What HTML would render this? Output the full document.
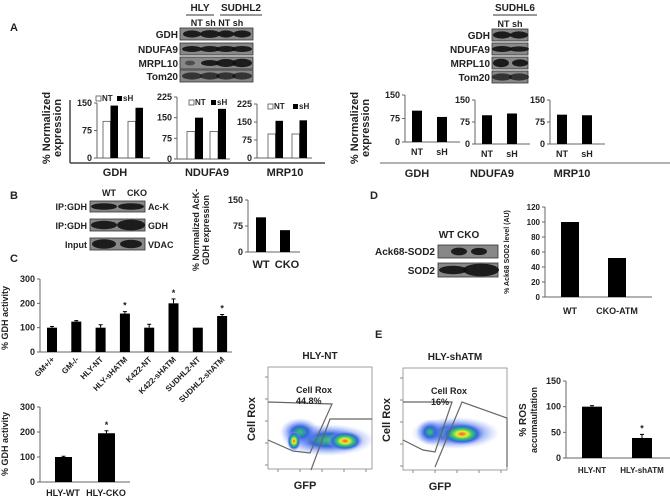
<!DOCTYPE html>
<html><head><meta charset="utf-8">
<style>
html,body{margin:0;padding:0;background:#fff;}
svg{display:block;font-family:"Liberation Sans",Arial,sans-serif;}
text{font-weight:bold;fill:#222;}
</style></head>
<body>
<svg id="fig" width="670" height="500" viewBox="0 0 670 500" xmlns="http://www.w3.org/2000/svg">
<defs>
<radialGradient id="blob" cx="50%" cy="50%" r="50%">
<stop offset="0" stop-color="#e53"/>
<stop offset="0.25" stop-color="#ee3"/>
<stop offset="0.45" stop-color="#3c6"/>
<stop offset="0.7" stop-color="#36d"/>
<stop offset="1" stop-color="#9af" stop-opacity="0"/>
</radialGradient>
<radialGradient id="blob2" cx="50%" cy="50%" r="50%">
<stop offset="0" stop-color="#3c6"/>
<stop offset="0.4" stop-color="#36d"/>
<stop offset="1" stop-color="#9af" stop-opacity="0"/>
</radialGradient>
</defs>
</svg>
<script>
// ---------- data ----------
const aLeftGdhNT=[100,100];
const aLeftGdhSH=[143,137];
const aLeftNdufNT=[100,100];
const aLeftNdufSH=[150,182];
const aLeftMrpNT=[100,100];
const aLeftMrpSH=[155,157];
const aRightCats=['NT','sH'];
const aRightGdh=[100,80];
const aRightNduf=[98,104];
const aRightMrp=[100,98];
const bCats=['WT','CKO'];
const bVals=[100,63];
const cCats=['GM+/+','GM-/-','HLY-NT','HLY-sHATM','K422-NT','K422-sHATM','SUDHL2-NT','SUDHL2-shATM'];
const cVals=[100,125,100,158,100,200,100,148];
const cErr=[5,4,12,8,14,18,0,6];
const cSig=[0,0,0,1,0,1,0,1];
const c2Cats=['HLY-WT','HLY-CKO'];
const c2Vals=[100,195];
const c2Err=[3,10];
const c2Sig=[0,1];
const dCats=['WT','CKO-ATM'];
const dVals=[100,52];
const eCats=['HLY-NT','HLY-shATM'];
const eVals=[100,39];
const eErr=[2,7];
const eSig=[0,1];

const svg=document.getElementById('fig');
const NS='http://www.w3.org/2000/svg';
function mk(tag,attrs,name,inter){
  const el=document.createElementNS(NS,tag);
  for(const k in attrs) el.setAttribute(k,attrs[k]);
  
  
  svg.appendChild(el);return el;
}
function txt(x,y,s,name,size,anchor,extra){
  const a=Object.assign({x:x,y:y,'font-size':size||10,'text-anchor':anchor||'start'},extra||{});
  const el=mk('text',a,name);el.textContent=s;return el;
}
function ln(x1,y1,x2,y2,name,col,w){return mk('line',{x1:x1,y1:y1,x2:x2,y2:y2,stroke:col||'#555',"stroke-width":w||1},name);}
function rect(x,y,w,h,fill,name,stroke){const a={x:x,y:y,width:w,height:h,fill:fill};if(stroke){a.stroke=stroke;a['stroke-width']=0.8;}return mk('rect',a,name);}

function axis(ax,yBase,yTop,max,ticks,xEnd,prefix,fs){
  const yS=v=>yBase-(v/max)*(yBase-yTop);
  ln(ax,yTop,ax,yBase,prefix+'-y-axis','#666');
  ln(ax,yBase,xEnd,yBase,prefix+'-x-axis','#666');
  ticks.forEach(t=>{
    ln(ax-3,yS(t),ax,yS(t),prefix+'-tick','#666');
    txt(ax-5,yS(t)+3,String(t),prefix+'-tick-label',fs||9,'end');
  });
  return yS;
}
function bars(yS,yBase,xs,w,vals,fill,prefix,err,sig){
  vals.forEach((v,i)=>{
    const y=yS(v);
    rect(xs(i),y,w,yBase-y,fill,prefix+'-bar',fill==='#fff'?'#555':null);
    let top=y;
    if(err&&err[i]){const ye=yS(v+err[i]);ln(xs(i)+w/2,y,xs(i)+w/2,ye,prefix+'-error-bar','#000');ln(xs(i)+w/2-2,ye,xs(i)+w/2+2,ye,prefix+'-error-cap','#000');top=ye;}
    if(sig&&sig[i]) txt(xs(i)+w/2,top-3,'*',prefix+'-significance',9,'middle');
  });
}
function blot(x,y,w,h,bands,name){
  rect(x,y,w,h,'#888',name,'#333');
  bands.forEach((b)=>{
    mk('ellipse',{cx:x+b[0],cy:y+h/2,rx:b[1],ry:h*b[2],fill:'#111',opacity:b[3]||0.9},name+'-band');
  });
}
function rotText(x,y,s,name,size){
  return txt(x,y,s,name,size||11,'middle',{transform:'rotate(-90 '+x+' '+y+')'});
}

// ---------- Panel A left ----------
txt(10,31,'A','panel-label-a',11);
txt(200,11,'HLY','blot-header-hly',10,'middle');
ln(186,15,214,15,'hly-underline','#333');
txt(241,11,'SUDHL2','blot-header-sudhl2',10,'middle');
ln(220,15,262,15,'sudhl2-underline','#333');
txt(217,26,'NT sh NT sh','lane-labels',9,'middle');
const blotRowsL=[['GDH',28,[[12,9,.3],[30,10,.32],[46,8,.3],[62,9,.3]]],['NDUFA9',43,[[12,10,.25],[30,10,.25],[46,10,.25],[62,10,.25]]],['MRPL10',57,[[10,5,.2,.5],[30,9,.25],[46,10,.33],[62,10,.35]]],['Tom20',70,[[12,10,.3,.7],[30,10,.3,.7],[46,10,.3,.7],[62,10,.3,.7]]]];
blotRowsL.forEach(r=>{blot(180,r[1],73,12,r[2],'blot-'+r[0].toLowerCase()+'-left');txt(178,r[1]+10,r[0],'blot-label',10,'end');});
rotText(50,128,'% Normalized','y-axis-title-a-left',11);
rotText(61,128,'expression','y-axis-title-a-left-2',11);
ln(70,100,70,163,'a-left-frame-line','#444',1.5);
ln(70,163,325,163,'a-left-baseline','#444',1.5);
{
  const yS=axis(97,158,103,150,[0,75,150],150,'a-gdh');
  bars(yS,158,i=>103+i*25,7.5,aLeftGdhNT,'#fff','a-gdh-nt');
  bars(yS,158,i=>110.5+i*25,7.5,aLeftGdhSH,'#000','a-gdh-sh');
  txt(115,176,'GDH','a-left-cat-gdh',11,'middle');
  rect(96,96,5,5,'#fff','legend-nt-swatch','#555');txt(102,101,'NT','legend-nt',8);
  rect(117,96,5,5,'#000','legend-sh-swatch');txt(123,101,'sH','legend-sh',8);
}
{
  const yS=axis(177,159,97,225,[0,75,150,225],230,'a-nduf');
  bars(yS,159,i=>187+i*23,8,aLeftNdufNT,'#fff','a-nduf-nt');
  bars(yS,159,i=>195+i*23,8,aLeftNdufSH,'#000','a-nduf-sh');
  txt(207,176,'NDUFA9','a-left-cat-ndufa9',11,'middle');
  rect(189,100,5,5,'#fff','legend-nt-swatch','#555');txt(195,105,'NT','legend-nt',8);
  rect(211,100,5,5,'#000','legend-sh-swatch');txt(217,105,'sH','legend-sh',8);
}
{
  const yS=axis(257,158,104,225,[0,75,150,225],312,'a-mrp');
  bars(yS,158,i=>268+i*24,7.5,aLeftMrpNT,'#fff','a-mrp-nt');
  bars(yS,158,i=>275.5+i*24,7.5,aLeftMrpSH,'#000','a-mrp-sh');
  txt(285,176,'MRP10','a-left-cat-mrp10',11,'middle');
  rect(268,104,5,5,'#fff','legend-nt-swatch','#555');txt(274,109,'NT','legend-nt',8);
  rect(293,104,5,5,'#000','legend-sh-swatch');txt(299,109,'sH','legend-sh',8);
}

// ---------- Panel A right ----------
txt(515,11,'SUDHL6','blot-header-sudhl6',10,'middle');
ln(493,15,537,15,'sudhl6-underline','#333');
txt(510,27,'NT sh','lane-labels-right',9,'middle');
const blotRowsR=[['GDH',29,[[10,9,.3],[27,9,.3]]],['NDUFA9',43,[[10,10,.25],[27,10,.22]]],['MRPL10',57,[[9,8,.35],[28,8,.3]]],['Tom20',71,[[10,10,.3,.7],[27,10,.3,.7]]]];
blotRowsR.forEach(r=>{blot(492,r[1],36,12,r[2],'blot-'+r[0].toLowerCase()+'-right');txt(490,r[1]+10,r[0],'blot-label',10,'end');});
rotText(358,128,'% Normalized','y-axis-title-a-right',11);
rotText(369,128,'expression','y-axis-title-a-right-2',11);
ln(380,163,670,163,'a-right-baseline','#666',1);
const rightCharts=[[405,95,142,aRightGdh,'GDH',417],[475,100,144,aRightNduf,'NDUFA9',492],[550,100,144,aRightMrp,'MRP10',572]];
rightCharts.forEach(c=>{
  const yS=axis(c[0],c[2],c[1],150,[0,75,150],c[0]+55,'a-right-'+c[4].toLowerCase());
  bars(yS,c[2],i=>c[0]+7+i*25,10,c[3],'#000','a-right-'+c[4].toLowerCase());
  aRightCats.forEach((n,i)=>txt(c[0]+12+i*25,c[2]+13,n,'a-right-x-label',9,'middle'));
  txt(c[5],177,c[4],'a-right-cat',11,'middle');
});

// ---------- Panel B ----------
txt(10,199,'B','panel-label-b',11);
txt(109,196,'WT','b-lane-wt',9,'middle');txt(137,196,'CKO','b-lane-cko',9,'middle');
blot(90,201,55,11,[[14,13,.3],[41,13,.3]],'blot-ac-k');
blot(90,219,55,12,[[14,13,.35],[41,14,.45]],'blot-gdh-ip');
blot(90,238,55,12,[[14,12,.4],[41,11,.35]],'blot-vdac');
txt(87,210,'IP:GDH','b-label-ip1',9,'end');txt(87,229,'IP:GDH','b-label-ip2',9,'end');txt(87,248,'Input','b-label-input',9,'end');
txt(148,210,'Ac-K','b-label-ack',9);txt(148,229,'GDH','b-label-gdh',9);txt(148,248,'VDAC','b-label-vdac',9);
rotText(199,230,'% Normalized AcK-','b-y-title',9);
rotText(209,230,'GDH expression','b-y-title-2',9);
{
  const yS=axis(248,252,200,150,[0,75,150],300,'b');
  bars(yS,252,i=>256+i*24,10,bVals,'#000','b');
  bCats.forEach((n,i)=>txt(261+i*26,268,n,'b-x-label',11,'middle'));
}

// ---------- Panel C ----------
txt(10,262,'C','panel-label-c',11);
rotText(8,318,'% GDH activity','c-y-title',9);
{
  const yS=axis(40,352,279,300,[0,100,200,300],232,'c');
  bars(yS,352,i=>47+i*24.3,10,cVals,'#000','c',cErr,cSig);
  cCats.forEach((n,i)=>{const x=55+i*24.3,y=360;txt(x,y,n,'c-x-label',8,'end',{transform:'rotate(-45 '+x+' '+y+')'});});
}
rotText(8,444,'% GDH activity','c2-y-title',9);
{
  const yS=axis(40,482,407,300,[0,100,200,300],130,'c2');
  bars(yS,482,i=>55+i*43,17,c2Vals,'#000','c2',c2Err,c2Sig);
  c2Cats.forEach((n,i)=>txt(63+i*43,496,n,'c2-x-label',9,'middle'));
}

// ---------- Panel D ----------
txt(370,199,'D','panel-label-d',11);
txt(459,238,'WT CKO','d-lane-labels',10,'middle');
blot(438,245,60,13,[[21,8,.3],[41,8,.28]],'blot-ack68-sod2');
blot(438,263,60,14,[[15,14,.3],[43,18,.45]],'blot-sod2');
txt(435,255,'Ack68-SOD2','d-label-ack68',10,'end');txt(435,274,'SOD2','d-label-sod2',10,'end');
rotText(509,252,'% Ack68 SOD2 level (AU)','d-y-title',7);
{
  const yS=axis(545,297,207,120,[0,20,40,60,80,100,120],652,'d',8);
  bars(yS,297,i=>561+i*47,18,dVals,'#000','d');
  dCats.forEach((n,i)=>txt(570+i*47,314,n,'d-x-label',9,'middle'));
}

// ---------- Panel E ----------
txt(375,338,'E','panel-label-e',11);
function flow(x,y,title,pct,gate1,gate2,blobs,prefix){
  txt(x+52,y-8,title,prefix+'-title',10,'middle');
  rect(x,y,104,102,'#fff',prefix+'-plot-frame','#888');
  blobs.forEach(b=>mk('ellipse',{cx:b[0],cy:b[1],rx:b[2],ry:b[3],fill:'url(#'+b[4]+')'},prefix+'-density'));
  mk('polyline',{points:gate1,fill:'none',stroke:'#666','stroke-width':1.2},prefix+'-cellrox-gate');
  mk('polyline',{points:gate2,fill:'none',stroke:'#666','stroke-width':1.2},prefix+'-gfp-gate');
  txt(x+28,y+26,'Cell Rox',prefix+'-gate-label',9);
  txt(x+28,y+37,pct,prefix+'-gate-pct',9);
  rotText(x-13,y+52,'Cell Rox',prefix+'-y-title',11);
  txt(x+37,y+122,'GFP',prefix+'-x-title',11,'middle');
  for(let i=0;i<5;i++){ln(x+10+i*22,y+102,x+10+i*22,y+105,prefix+'-x-tick','#888');ln(x-3,y+10+i*22,x,y+10+i*22,prefix+'-y-tick','#888');}
}
flow(268,367,'HLY-NT','44.8%','268,402 332,404 310,453 293,451 268,440','311,470 330,419 372,419',
  [[328,440,46,16,'blob2'],[300,432,20,14,'blob2'],[294,441,7,10,'blob'],[345,441,18,10,'blob']],'hly-nt');
flow(403,368,'HLY-shATM','16%','403,402 452,402 435,452 423,450 403,440','435,467 462,402 507,418 507,467',
  [[455,433,44,16,'blob2'],[430,432,14,13,'blob2'],[462,434,22,11,'blob']],'hly-shatm');
rotText(526,420,'% ROS','e-y-title',10);
rotText(537,420,'accumaultation','e-y-title-2',9);
{
  const yS=axis(566,458,381,150,[0,50,100,150],670,'e');
  bars(yS,458,i=>582+i*50,20,eVals,'#000','e',eErr,eSig);
  eCats.forEach((n,i)=>txt(592+i*50,473,n,'e-x-label',8,'middle'));
}
</script>
</body></html>
